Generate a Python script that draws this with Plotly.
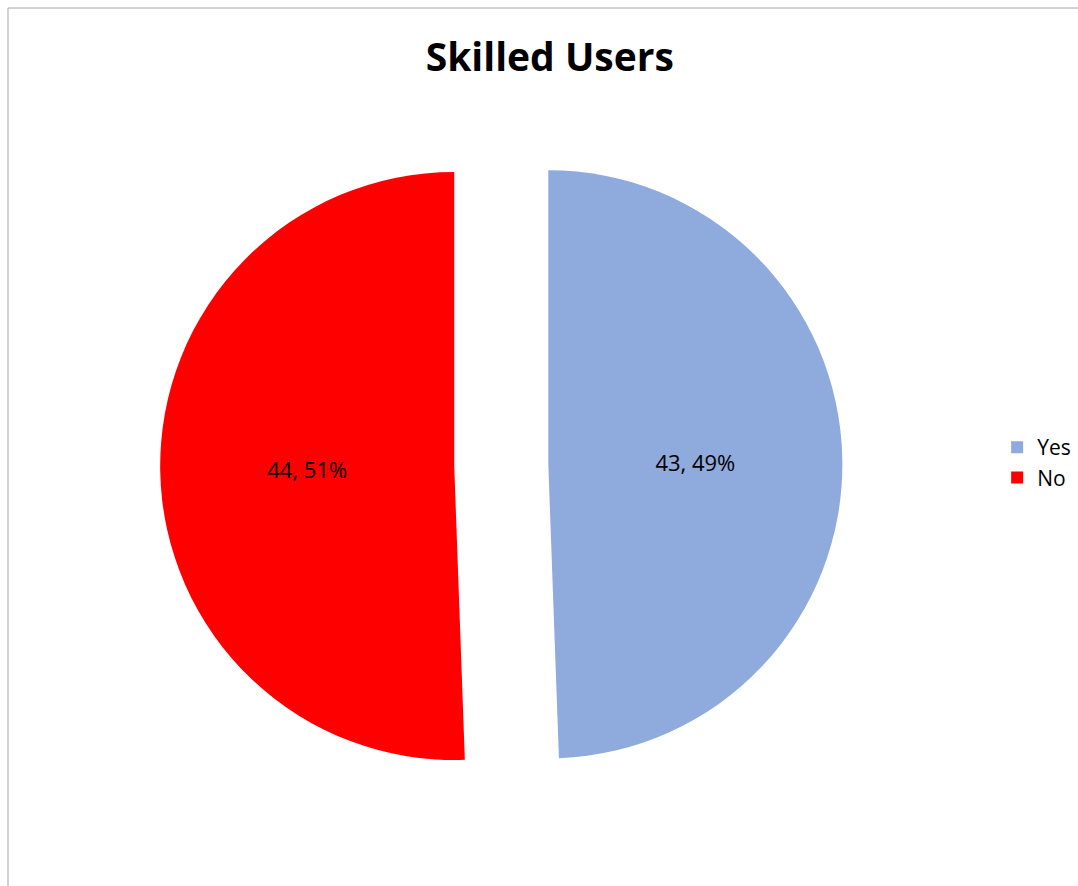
import plotly.graph_objects as go

labels = ["Yes", "No"]
values = [43, 44]
colors = ["#8FAADC", "#FF0000"]

fig = go.Figure(go.Pie(
    labels=labels,
    values=values,
    sort=False,
    direction="clockwise",
    rotation=0,
    pull=[0.16, 0.16],
    marker=dict(colors=colors, line=dict(color="white", width=0)),
    texttemplate="%{value}, %{percent:.0%}",
    textposition="inside",
    insidetextorientation="horizontal",
    textfont=dict(color="black", size=22, family="Open Sans"),
    domain=dict(x=[0.06, 0.87], y=[0.09, 0.86]),
    hoverinfo="label+value+percent",
))

fig.update_layout(
    width=1078, height=886,
    margin=dict(l=0, r=0, t=0, b=0),
    paper_bgcolor="white",
    title=dict(text="<b>Skilled Users</b>", x=0.51, xanchor="center", y=0.935, yanchor="middle",
               font=dict(size=39, color="black", family="Open Sans")),
    legend=dict(x=0.925, y=0.478, xanchor="left", yanchor="middle",
                font=dict(size=21, color="black", family="Open Sans"),
                itemsizing="constant"),
    font=dict(family="Open Sans"),
    shapes=[dict(type="rect", xref="paper", yref="paper",
                 x0=8/1078, x1=1.05, y0=-0.05, y1=1-8/886,
                 line=dict(color="#A6A6A6", width=1), fillcolor="rgba(0,0,0,0)")],
)

fig.write_html("out.html")
